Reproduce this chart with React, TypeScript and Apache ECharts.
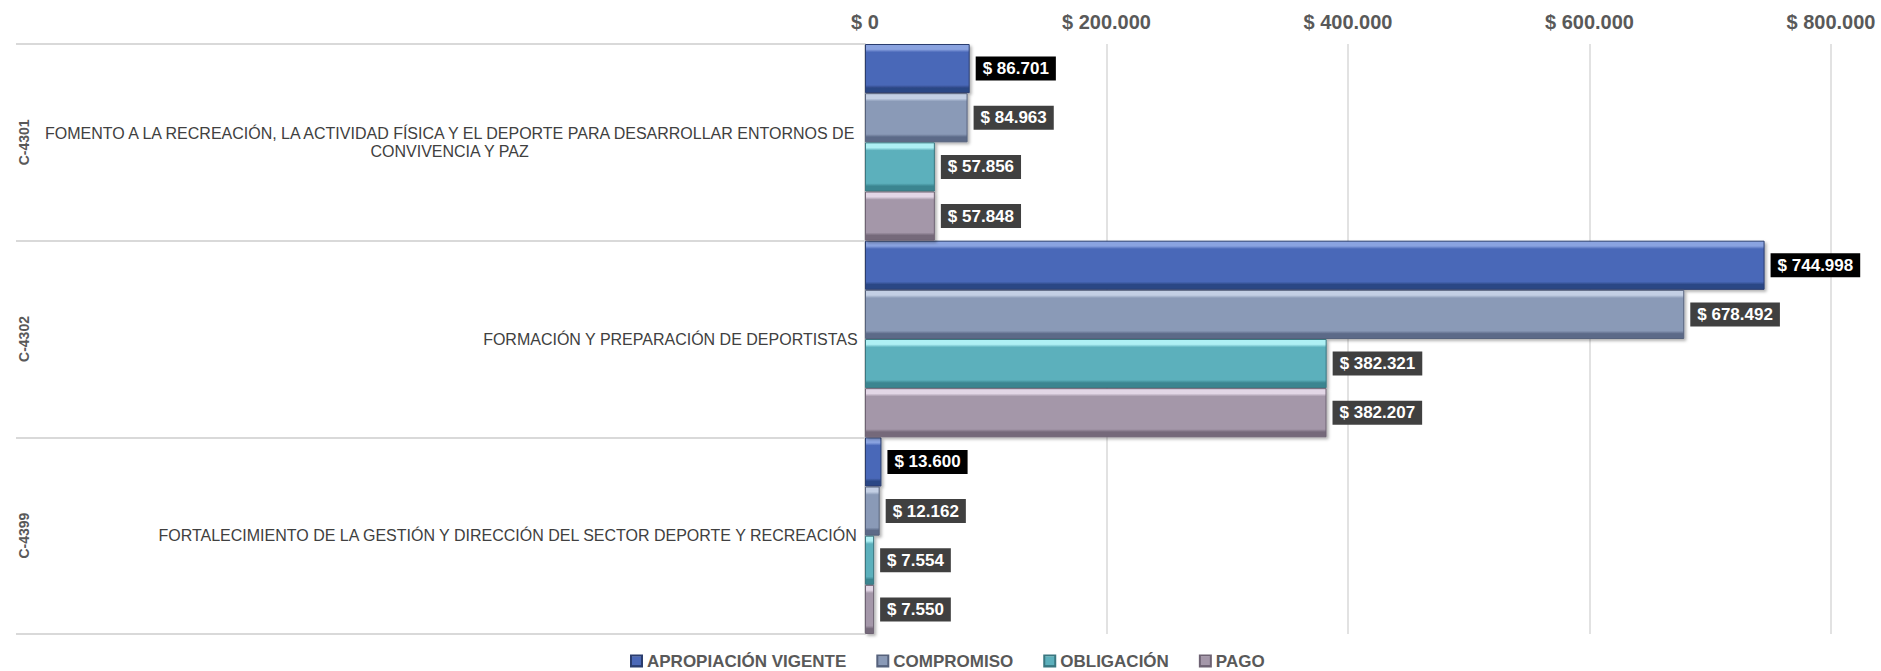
import React, { useEffect, useRef } from 'react';
import * as echarts from 'echarts';

const codes = ['C-4301', 'C-4302', 'C-4399'];
const names = [
  'FOMENTO A LA RECREACIÓN, LA ACTIVIDAD FÍSICA Y EL DEPORTE PARA DESARROLLAR ENTORNOS DE CONVIVENCIA Y PAZ',
  'FORMACIÓN Y PREPARACIÓN DE DEPORTISTAS',
  'FORTALECIMIENTO DE LA GESTIÓN Y DIRECCIÓN DEL SECTOR DEPORTE Y RECREACIÓN',
];
const seriesNames = ['APROPIACIÓN VIGENTE', 'COMPROMISO', 'OBLIGACIÓN', 'PAGO'];
const apropiacion = [86701, 744998, 13600];
const compromiso = [84963, 678492, 12162];
const obligacion = [57856, 382321, 7554];
const pago = [57848, 382207, 7550];
const xMin = 0;
const xMax = 800000;
const xInterval = 200000;

const FONT = "'Liberation Sans', Arial, sans-serif";

const palettes = [
  { top: '#8aa3e0', mid: '#4a68b8', bot: '#2c4785', border: '#2a3d6e', label: '#000000' },
  { top: '#c3cfe4', mid: '#8a9ab7', bot: '#5c6a88', border: '#56627c', label: '#404040' },
  { top: '#aef0f4', mid: '#5cb0bc', bot: '#3b8590', border: '#3a7780', label: '#404040' },
  { top: '#e2d6e6', mid: '#a497a9', bot: '#75697a', border: '#6e6273', label: '#404040' },
];

function fmt(v: number): string {
  const s = Math.round(v).toString();
  return s.replace(/\B(?=(\d{3})+(?!\d))/g, '.');
}

function wrapText(text: string, maxW: number, font: string): string[] {
  const canvas = document.createElement('canvas');
  const ctx = canvas.getContext('2d');
  if (!ctx) return [text];
  ctx.font = font;
  const words = text.split(' ');
  const lines: string[] = [];
  let cur = '';
  for (const w of words) {
    const t = cur ? cur + ' ' + w : w;
    if (ctx.measureText(t).width > maxW && cur) {
      lines.push(cur);
      cur = w;
    } else {
      cur = t;
    }
  }
  if (cur) lines.push(cur);
  return lines;
}

export default function App() {
  const ref = useRef<HTMLDivElement>(null);
  useEffect(() => {
    if (!ref.current) return;
    const chart = echarts.init(ref.current, null, { renderer: 'svg' });
    const valuesList = [apropiacion, compromiso, obligacion, pago];
    const series = seriesNames.map((name, i) => {
      const p = palettes[i];
      return {
        name,
        type: 'bar',
        yAxisIndex: 0,
        barGap: '0%',
        barCategoryGap: '0%',
        data: valuesList[i],
        itemStyle: {
          color: new echarts.graphic.LinearGradient(0, 0, 0, 1, [
            { offset: 0, color: p.top },
            { offset: 0.1, color: p.top },
            { offset: 0.16, color: p.mid },
            { offset: 0.84, color: p.mid },
            { offset: 0.9, color: p.bot },
            { offset: 1, color: p.bot },
          ]),
          borderColor: p.border,
          borderWidth: 1,
          shadowColor: 'rgba(0,0,0,0.3)',
          shadowBlur: 3,
          shadowOffsetX: 2,
          shadowOffsetY: 2,
        },
        label: {
          show: true,
          position: 'right',
          distance: 6,
          formatter: (pr: any) => '$ ' + fmt(pr.value),
          backgroundColor: p.label,
          color: '#ffffff',
          fontFamily: FONT,
          fontWeight: 'bold',
          fontSize: 17,
          padding: [4, 7, 3, 7],
        },
      };
    });

    chart.setOption({
      animation: false,
      textStyle: { fontFamily: FONT },
      grid: { left: 865, right: 50, top: 44, bottom: 37, containLabel: false },
      legend: {
        data: seriesNames,
        left: 630,
        top: 652,
        padding: 0,
        icon: 'rect',
        itemWidth: 11,
        itemHeight: 11,
        itemGap: 30,
        textStyle: { color: '#595959', fontSize: 17, lineHeight: 18, fontWeight: 'bold', fontFamily: FONT },
      },
      xAxis: {
        type: 'value',
        position: 'top',
        min: xMin,
        max: xMax,
        interval: xInterval,
        axisLine: { show: false },
        axisTick: { show: false },
        splitLine: { show: true, lineStyle: { color: '#d9d9d9', width: 1.5 } },
        axisLabel: {
          margin: 12,
          color: '#595959',
          fontSize: 20,
          fontWeight: 'bold',
          fontFamily: FONT,
          formatter: (v: number) => '$ ' + fmt(v),
        },
      },
      yAxis: [
        {
          type: 'category',
          inverse: true,
          position: 'left',
          data: names,
          axisLine: { show: true, lineStyle: { color: '#d9d9d9', width: 2 } },
          axisTick: { show: true, length: 849, interval: 0, lineStyle: { color: '#d9d9d9', width: 2 } },
          splitLine: { show: false },
          axisLabel: {
            interval: 0,
            margin: 7,
            formatter: (v: string) =>
              wrapText(v, 850, '16px "Liberation Sans"').map((l) => '{c|' + l + '}').join('\n'),
            rich: {
              c: {
                align: 'center',
                fontSize: 16,
                lineHeight: 18,
                color: '#404040',
                fontFamily: FONT,
              },
            },
          },
        },
        {
          type: 'category',
          inverse: true,
          position: 'left',
          offset: 826,
          data: codes,
          axisLine: { show: false },
          axisTick: { show: false },
          splitLine: { show: false },
          axisLabel: {
            interval: 0,
            rotate: 90,
            margin: 8,
            fontSize: 14,
            fontWeight: 'bold',
            color: '#595959',
            fontFamily: FONT,
          },
        },
      ],
      series,
    });
    return () => chart.dispose();
  }, []);
  return (
    <div
      ref={ref}
      style={{ position: 'fixed', left: 0, top: 0, width: 1881, height: 671, background: '#ffffff' }}
    />
  );
}
